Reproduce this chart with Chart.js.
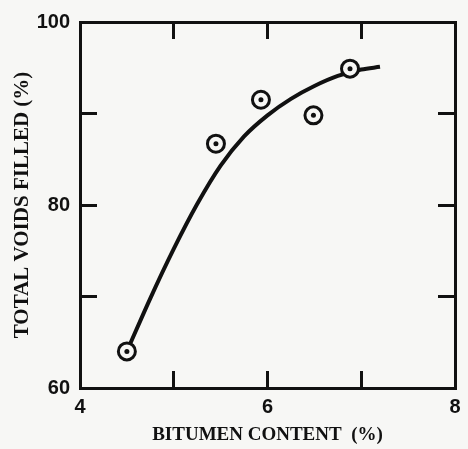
<!DOCTYPE html>
<html>
<head>
<meta charset="utf-8">
<script src="https://cdn.jsdelivr.net/npm/chart.js@4"></script>
<style>
  html, body { margin: 0; padding: 0; background: #f7f7f5; }
  #wrap { width: 468px; height: 449px; }
</style>
</head>
<body>
<div id="wrap"><canvas id="voidsChart"></canvas></div>
<script>
  "use strict";

  // Measured points
  const bitumen = [4.5, 5.45, 5.93, 6.49, 6.88];
  const voidsFilled = [64.0, 86.7, 91.5, 89.8, 94.9];

  // Fitted curve
  const curveX = [4.5, 4.75, 5.0, 5.25, 5.5, 5.75, 6.0, 6.25, 6.5, 6.75, 7.0, 7.2];
  const curveY = [64.0, 69.8, 75.2, 80.1, 84.3, 87.5, 89.8, 91.6, 93.0, 94.1, 94.8, 95.1];

  // Tick labels
  const xLabels = [4, 6, 8];
  const yLabels = [60, 80, 100];

  const ink = "#111";
  const toXY = (xs, ys) => xs.map((x, i) => ({ x, y: ys[i] }));

  const numFont = { family: "'Liberation Sans', Arial, sans-serif", size: 20, weight: "bold" };
  const titleFont = { family: "'Liberation Serif', 'Times New Roman', serif", size: 19, weight: "bold" };

  // inward tick marks on every side; labels pushed back out with padding
  const frame = {
    border: { display: true, color: ink, width: 3 },
    grid: { drawOnChartArea: false, color: ink, lineWidth: 3, tickLength: -17 },
  };

  // fixed box sizes, and drop the label padding Chart.js adds around the plot
  const fixWidth = (w) => (s) => { s.width = w; s.paddingTop = 0; s.paddingBottom = 0; };
  const fixHeight = (h) => (s) => { s.height = h; s.paddingLeft = 0; s.paddingRight = 0; };

  const ctx = document.getElementById("voidsChart");
  // eslint-disable-next-line no-unused-vars
  const chart = new Chart(ctx, {
    type: "scatter",
    data: {
      datasets: [
        {
          type: "line",
          data: toXY(curveX, curveY),
          borderColor: ink,
          borderWidth: 4,
          cubicInterpolationMode: "monotone",
          pointRadius: 0,
          fill: false,
          order: 3,
        },
        {
          data: toXY(bitumen, voidsFilled),
          pointRadius: 8.5,
          borderWidth: 3,
          borderColor: ink,
          backgroundColor: "#f7f7f5",
          order: 2,
        },
        {
          data: toXY(bitumen, voidsFilled),
          pointRadius: 2.5,
          borderWidth: 0,
          backgroundColor: ink,
          order: 1,
        },
      ],
    },
    options: {
      responsive: true,
      maintainAspectRatio: false,
      animation: false,
      layout: { padding: 0 },
      plugins: { legend: { display: false }, tooltip: { enabled: false } },
      scales: {
        x: {
          type: "linear",
          position: "bottom",
          min: 4,
          max: 8,
          ...frame,
          ticks: {
            stepSize: 1,
            autoSkip: false,
            maxRotation: 0,
            padding: 24,
            color: ink,
            font: numFont,
            callback: (v) => (xLabels.includes(v) ? String(v) : ""),
          },
          title: {
            display: true,
            text: "BITUMEN CONTENT  (%)",
            color: ink,
            font: titleFont,
            padding: { top: 0, bottom: 3 },
          },
          afterFit: fixHeight(61),
        },
        x2: {
          type: "linear",
          position: "top",
          min: 4,
          max: 8,
          ...frame,
          ticks: { stepSize: 1, display: false },
          afterFit: fixHeight(22),
        },
        y: {
          type: "linear",
          position: "left",
          min: 60,
          max: 100,
          ...frame,
          ticks: {
            stepSize: 10,
            autoSkip: false,
            padding: 27,
            color: ink,
            font: numFont,
            callback: (v) => (yLabels.includes(v) ? String(v) : ""),
          },
          title: {
            display: true,
            text: "TOTAL VOIDS FILLED (%)",
            color: ink,
            font: { ...titleFont, size: 21 },
            padding: { top: 10, bottom: 0 },
          },
          afterFit: fixWidth(80),
        },
        y2: {
          type: "linear",
          position: "right",
          min: 60,
          max: 100,
          ...frame,
          ticks: { stepSize: 10, display: false },
          afterFit: fixWidth(13),
        },
      },
    },
  });
</script>
</body>
</html>
